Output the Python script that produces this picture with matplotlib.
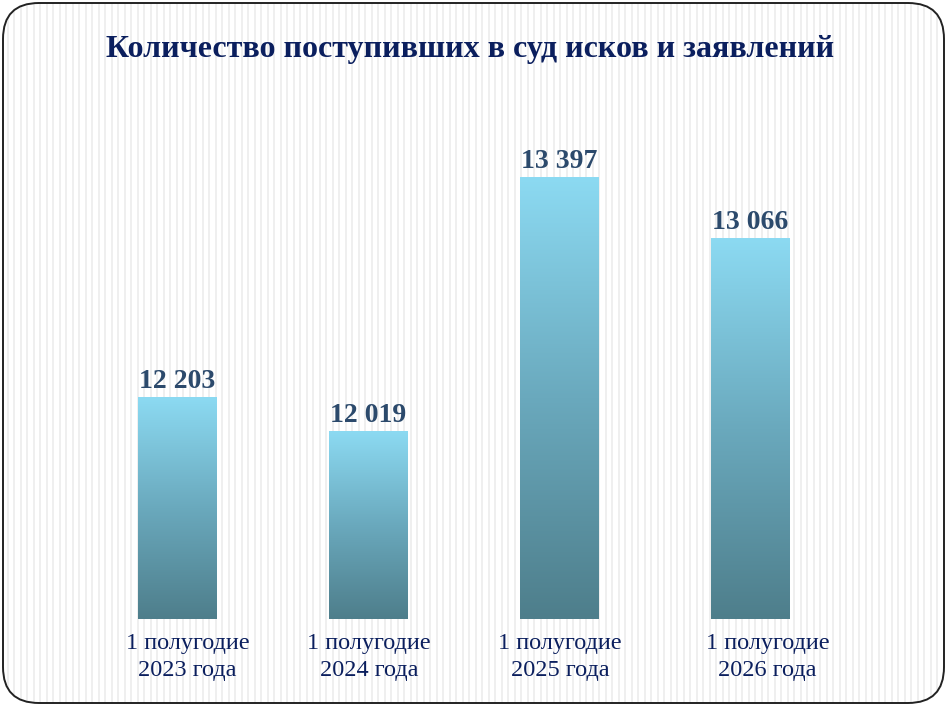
import numpy as np
import matplotlib
matplotlib.use("Agg")
import matplotlib.pyplot as plt
from matplotlib.patches import FancyBboxPatch
from matplotlib.transforms import ScaledTranslation
from matplotlib.colors import LinearSegmentedColormap

# data
periods = ["1 полугодие\n2023 года", "1 полугодие\n2024 года",
           "1 полугодие\n2025 года", "1 полугодие\n2026 года"]
claims = [12203, 12019, 13397, 13066]
value_labels = ["12 203", "12 019", "13 397", "13 066"]
title = "Количество поступивших в суд исков и заявлений"

W, H = 947, 706
plt.rcParams['font.family'] = ['Liberation Serif', 'DejaVu Serif']

fig = plt.figure(figsize=(W / 100, H / 100), dpi=100)
fig.patch.set_facecolor('white')

# background: rounded frame with thin vertical stripes
bg = fig.add_axes([0, 0, 1, 1])
bg.set_xlim(0, W)
bg.set_ylim(0, H)
bg.axis('off')
cols = np.arange(W)
stripes = np.where((cols % 6.5) < 1.8, 0.935, 1.0)[None, :].repeat(4, axis=0)
frame = FancyBboxPatch((3, 3), W - 6, H - 6,
                       boxstyle="round,pad=0,rounding_size=36",
                       facecolor='none', edgecolor='#222222', lw=1.4, zorder=3)
img = bg.imshow(stripes, cmap='gray', vmin=0, vmax=1, extent=[0, W, 0, H],
                aspect='auto', interpolation='nearest', zorder=1)
bg.add_patch(frame)
img.set_clip_path(frame)

fig.text(470 / W, 1 - 50 / H, title, ha='center', va='center',
         fontsize=23, fontweight='bold', color='#0b1f5e')

# main bar axes
ax = fig.add_axes([82 / W, 1 - 618.7 / H, 763 / W, 552.8 / H])
ax.patch.set_alpha(0)
for s in ax.spines.values():
    s.set_visible(False)

x = np.arange(len(claims))
width = 0.41
ymin, ymax = 11000, 14000
heights = [c - ymin for c in claims]

# soft shadow on the left side of each bar
for k in range(1, 7):
    sh = ax.bar(x, heights, width, bottom=ymin, color='#2a2a2a',
                alpha=0.13, zorder=2, lw=0)
    for r in sh:
        r.set_transform(r.get_transform() +
                        ScaledTranslation(-k / 100, -0.5 / 100, fig.dpi_scale_trans))

bars = ax.bar(x, heights, width, bottom=ymin, color='none', zorder=3)
cmap = LinearSegmentedColormap.from_list(
    'bar', ['#4e7e8b', '#6aa9bd', '#8cdaf2'])
grad = np.linspace(0, 1, 256)[:, None]
for r in bars:
    bx, by = r.get_x(), r.get_y()
    im = ax.imshow(grad, cmap=cmap, origin='lower', aspect='auto',
                   extent=[bx, bx + r.get_width(), by, by + r.get_height()],
                   zorder=3)
    im.set_clip_path(r)

for xi, c, lab in zip(x, claims, value_labels):
    ax.annotate(lab, (xi, c), xytext=(0, 2), textcoords='offset points',
                ha='center', va='bottom', fontsize=20, fontweight='bold',
                color='#2c4a6c')

ax.set_xlim(-0.5, len(claims) - 0.5)
ax.set_ylim(ymin, ymax)
ax.set_yticks([])
ax.set_xticks(x)
ax.set_xticklabels(periods, fontsize=17.5, color='#0b1f5e', linespacing=1.38)
ax.tick_params(axis='x', length=0, pad=10)
shifts = [10, 1, 1, 18]
for tl, dx in zip(ax.get_xticklabels(), shifts):
    tl.set_transform(tl.get_transform() +
                     ScaledTranslation(dx / 100, 0, fig.dpi_scale_trans))

fig.savefig('out.png', dpi=100)
